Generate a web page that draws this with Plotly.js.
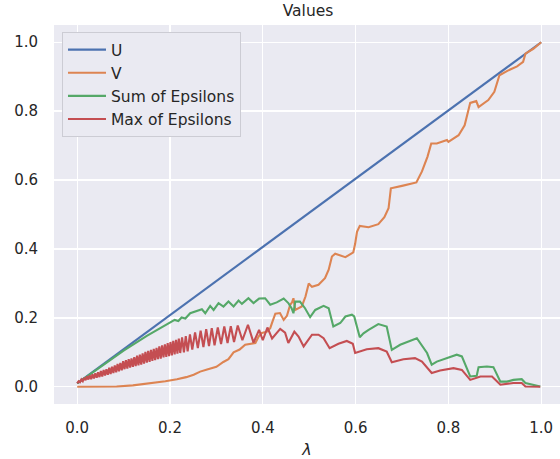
<!DOCTYPE html>
<html>
<head>
<meta charset="utf-8">
<script src="https://cdn.plot.ly/plotly-3.0.1.min.js"></script>
<style>html,body{margin:0;padding:0;background:#fff;}#chart{width:560px;height:459px;}</style>
</head>
<body>
<div id="chart"></div>
<script>
// U
var uX = [0.0, 1.0];
var uY = [0.010, 1.000];

// V
var vX = [0.000,0.040,0.085,0.120,0.157,0.190,0.215,0.235,0.251,0.265,0.280,0.292,0.300,0.315,0.326,0.337,0.350,0.362,0.372,0.384,0.391,0.398,0.409,0.416,0.421,0.427,0.437,0.445,0.452,0.459,0.463,0.466,0.470,0.484,0.492,0.499,0.506,0.520,0.534,0.542,0.549,0.556,0.578,0.595,0.599,0.603,0.609,0.628,0.649,0.662,0.671,0.676,0.700,0.731,0.743,0.755,0.763,0.775,0.797,0.800,0.822,0.835,0.847,0.860,0.865,0.886,0.899,0.910,0.927,0.948,0.961,0.966,0.983,1.000];
var vY = [0.000,0.000,0.001,0.004,0.010,0.016,0.022,0.028,0.035,0.044,0.050,0.054,0.058,0.072,0.080,0.100,0.108,0.122,0.124,0.127,0.146,0.156,0.160,0.170,0.190,0.212,0.214,0.194,0.206,0.238,0.245,0.257,0.223,0.233,0.262,0.300,0.290,0.296,0.315,0.340,0.378,0.386,0.376,0.390,0.415,0.450,0.467,0.463,0.472,0.492,0.518,0.576,0.583,0.593,0.625,0.668,0.706,0.706,0.716,0.711,0.730,0.759,0.824,0.829,0.812,0.832,0.856,0.904,0.917,0.930,0.943,0.967,0.981,1.000];

// Sum of Epsilons
var sX = [0.000,0.050,0.100,0.150,0.200,0.210,0.218,0.225,0.233,0.2435,0.2687,0.276,0.2866,0.294,0.3046,0.3153,0.326,0.337,0.3477,0.355,0.369,0.380,0.392,0.405,0.416,0.430,0.445,0.455,0.462,0.466,0.470,0.480,0.491,0.502,0.513,0.531,0.542,0.552,0.567,0.578,0.592,0.597,0.609,0.617,0.628,0.649,0.667,0.678,0.696,0.725,0.732,0.754,0.764,0.775,0.797,0.818,0.829,0.847,0.861,0.865,0.883,0.897,0.912,0.926,0.940,0.958,0.966,0.983,0.998];
var sY = [0.010,0.058,0.105,0.148,0.187,0.194,0.191,0.201,0.198,0.2135,0.225,0.2135,0.2348,0.223,0.2425,0.2329,0.2473,0.2329,0.2502,0.2406,0.257,0.243,0.256,0.257,0.238,0.245,0.256,0.243,0.228,0.2135,0.247,0.247,0.228,0.202,0.223,0.235,0.228,0.175,0.185,0.204,0.209,0.204,0.144,0.155,0.165,0.182,0.175,0.107,0.122,0.138,0.141,0.098,0.064,0.073,0.083,0.093,0.088,0.030,0.032,0.057,0.059,0.057,0.015,0.015,0.020,0.022,0.011,0.006,0.001];

// Max of Epsilons
var mX = [0.000,0.003,0.006,0.009,0.012,0.015,0.018,0.021,0.024,0.027,0.030,0.033,0.036,0.039,0.042,0.045,0.048,0.051,0.054,0.057,0.060,0.063,0.066,0.069,0.072,0.075,0.078,0.081,0.084,0.087,0.090,0.093,0.096,0.099,0.102,0.105,0.108,0.111,0.114,0.117,0.120,0.123,0.126,0.129,0.132,0.135,0.138,0.141,0.144,0.147,0.150,0.153,0.156,0.159,0.162,0.165,0.168,0.171,0.174,0.177,0.180,0.183,0.186,0.189,0.192,0.195,0.198,0.201,0.204,0.207,0.210,0.213,0.216,0.219,0.222,0.226,0.230,0.234,0.238,0.243,0.248,0.254,0.260,0.266,0.272,0.278,0.284,0.290,0.296,0.303,0.310,0.317,0.324,0.331,0.338,0.346,0.356,0.368,0.380,0.392,0.400,0.410,0.420,0.4375,0.448,0.455,0.468,0.477,0.488,0.506,0.520,0.531,0.544,0.563,0.581,0.594,0.599,0.624,0.649,0.667,0.678,0.703,0.728,0.743,0.764,0.782,0.811,0.829,0.847,0.869,0.894,0.912,0.940,0.958,0.966,0.998];
var mY = [0.010,0.016,0.013,0.021,0.016,0.026,0.019,0.030,0.021,0.033,0.022,0.036,0.024,0.039,0.026,0.042,0.028,0.046,0.030,0.049,0.033,0.051,0.035,0.055,0.037,0.058,0.040,0.062,0.042,0.066,0.045,0.069,0.048,0.074,0.051,0.077,0.053,0.080,0.056,0.082,0.058,0.086,0.060,0.090,0.062,0.093,0.064,0.097,0.067,0.101,0.070,0.104,0.072,0.107,0.075,0.110,0.077,0.113,0.080,0.117,0.082,0.120,0.085,0.123,0.087,0.127,0.089,0.130,0.091,0.133,0.094,0.136,0.096,0.140,0.098,0.143,0.100,0.147,0.103,0.152,0.108,0.158,0.112,0.163,0.115,0.167,0.118,0.170,0.120,0.172,0.124,0.175,0.127,0.176,0.130,0.178,0.135,0.180,0.128,0.165,0.135,0.172,0.140,0.168,0.157,0.127,0.160,0.146,0.117,0.151,0.151,0.141,0.112,0.125,0.133,0.125,0.098,0.109,0.112,0.102,0.071,0.080,0.083,0.073,0.040,0.047,0.054,0.049,0.020,0.030,0.030,0.006,0.011,0.011,0.001,0.000];

var names = ['U', 'V', 'Sum of Epsilons', 'Max of Epsilons'];
var colors = ['#4C72B0', '#DD8452', '#55A868', '#C44E52'];
var xs = [uX, vX, sX, mX];
var ys = [uY, vY, sY, mY];

var traces = names.map(function (n, i) {
  return {x: xs[i], y: ys[i], name: n, type: 'scatter', mode: 'lines',
          line: {color: colors[i], width: 2.1}};
});

var tickVals = [0, 0.2, 0.4, 0.6, 0.8, 1.0];
var tickText = ['0.0', '0.2', '0.4', '0.6', '0.8', '1.0'];

var layout = {
  width: 560, height: 459,
  margin: {l: 54, r: 0, t: 25, b: 55},
  paper_bgcolor: '#ffffff',
  plot_bgcolor: '#EAEAF2',
  font: {family: 'DejaVu Sans', size: 15, color: '#262626'},
  title: {text: 'Values', x: 0.55, xanchor: 'center', xref: 'container', y: 0.978, yanchor: 'middle', yref: 'container',
          font: {family: 'DejaVu Sans', size: 15.5, color: '#262626'}},
  showlegend: true,
  legend: {x: 0.0158, y: 0.9815, xanchor: 'left', yanchor: 'top', itemwidth: 38,
           bgcolor: '#EAEAF2', bordercolor: '#CCCCD4', borderwidth: 1,
           font: {family: 'DejaVu Sans', size: 15.5, color: '#262626'}},
  xaxis: {range: [-0.05, 1.0405], tickvals: tickVals, ticktext: tickText,
          showgrid: true, gridcolor: '#ffffff', gridwidth: 1.3, zeroline: false, showline: false,
          ticks: 'outside', ticklen: 10, tickcolor: 'rgba(0,0,0,0)',
          tickfont: {family: 'DejaVu Sans', size: 15, color: '#262626'},
          title: {text: '<i>λ</i>', standoff: 9, font: {family: 'DejaVu Sans', size: 16, color: '#262626'}}},
  yaxis: {range: [-0.05, 1.05], tickvals: tickVals, ticktext: tickText,
          showgrid: true, gridcolor: '#ffffff', gridwidth: 1.3, zeroline: false, showline: false,
          ticks: 'outside', ticklen: 12, tickcolor: 'rgba(0,0,0,0)',
          tickfont: {family: 'DejaVu Sans', size: 15, color: '#262626'}}
};

Plotly.newPlot('chart', traces, layout, {staticPlot: true, displayModeBar: false});
</script>
</body>
</html>
